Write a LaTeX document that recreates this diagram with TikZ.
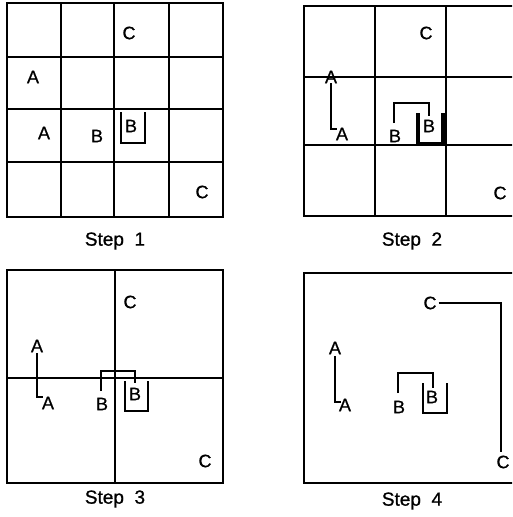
\documentclass[tikz,border=0pt]{standalone}
\usepackage{fontspec}
\setmainfont{Liberation Sans}
\newfontfamily\inkfont{Liberation Sans}[FakeBold=0.8]
\begin{document}
\begin{tikzpicture}[x=1pt,y=-1pt,
  grid/.style={line width=1.7pt},
  link/.style={line width=2.6pt},
  cup/.style={line width=2.8pt},
  heavycup/.style={line width=3.8pt},
  lbl/.style={inner sep=0pt,font=\inkfont\fontsize{18}{18}\selectfont},
  steplabel/.style={inner sep=0pt,font=\inkfont\fontsize{19}{19}\selectfont}]
\useasboundingbox (0,0) rectangle (512,517);
\clip (0,0) rectangle (512,517);

% ---- Step 1: 4x4 grid
\draw[grid] (7,3) rectangle (223,217);
\foreach \x in {61,114,169} \draw[grid] (\x,3) -- (\x,217);
\foreach \y in {57,109,162} \draw[grid] (7,\y) -- (223,\y);
\node[lbl] (s1c1) at (129,33) {C};
\node[lbl] (s1c2) at (202,192) {C};
\node[lbl] (s1a1) at (33,77) {A};
\node[lbl] (s1a2) at (44,133) {A};
\node[lbl] (s1b1) at (97,136) {B};
\node[lbl] (s1b2) at (131,126) {B};
\draw[cup] (121,112) -- (121,143) -- (145,143) -- (145,112);
\node[steplabel] (st1) at (115,241) {Step\ \ 1};

% ---- Step 2: 3x3 grid
\draw[grid] (304,6) rectangle (517,216);
\foreach \x in {375,446} \draw[grid] (\x,6) -- (\x,216);
\foreach \y in {77,145} \draw[grid] (304,\y) -- (517,\y);
\node[lbl] (s2c1) at (426,33) {C};
\node[lbl] (s2c2) at (500,193) {C};
\node[lbl] (s2a1) at (331,77) {A};
\node[lbl] (s2a2) at (342,134) {A};
\draw[link] (331,83) -- (331,129) -- (337,129);
\node[lbl] (s2b1) at (395,136) {B};
\node[lbl] (s2b2) at (429,126) {B};
\draw[link] (394,123) -- (394,103) -- (429,103) -- (429,116);
\draw[heavycup] (418,113) -- (418,144) -- (443,144) -- (443,113);
\node[steplabel] (st2) at (412,241) {Step\ \ 2};

% ---- Step 3: 2x2 grid
\draw[grid] (7,270) rectangle (223,483);
\draw[grid] (115,270) -- (115,483);
\draw[grid] (7,378) -- (223,378);
\node[lbl] (s3c1) at (130,302) {C};
\node[lbl] (s3c2) at (205,461) {C};
\node[lbl] (s3a1) at (37,346) {A};
\node[lbl] (s3a2) at (48,403) {A};
\draw[link] (37,353) -- (37,397) -- (43,397);
\node[lbl] (s3b1) at (102,404) {B};
\node[lbl] (s3b2) at (135,394) {B};
\draw[link] (101,391) -- (101,371) -- (135,371) -- (135,383);
\draw[cup] (125,381) -- (125,411) -- (148,411) -- (148,381);
\node[steplabel] (st3) at (115,499) {Step\ \ 3};

% ---- Step 4: single cell
\draw[grid] (304,273) rectangle (517,483);
\node[lbl] (s4c1) at (430,303) {C};
\node[lbl] (s4c2) at (503,462) {C};
\draw[link] (s4c1.east) ++(2,0) -- (501,303) -- (501,452);
\node[lbl] (s4a1) at (335,348) {A};
\node[lbl] (s4a2) at (345,405) {A};
\draw[link] (335,356) -- (335,402) -- (341,402);
\node[lbl] (s4b1) at (399,407) {B};
\node[lbl] (s4b2) at (432,397) {B};
\draw[link] (398,393) -- (398,373) -- (433,373) -- (433,388);
\draw[cup] (423,383) -- (423,413) -- (447,413) -- (447,383);
\node[steplabel] (st4) at (412,501) {Step\ \ 4};
\end{tikzpicture}
\end{document}
